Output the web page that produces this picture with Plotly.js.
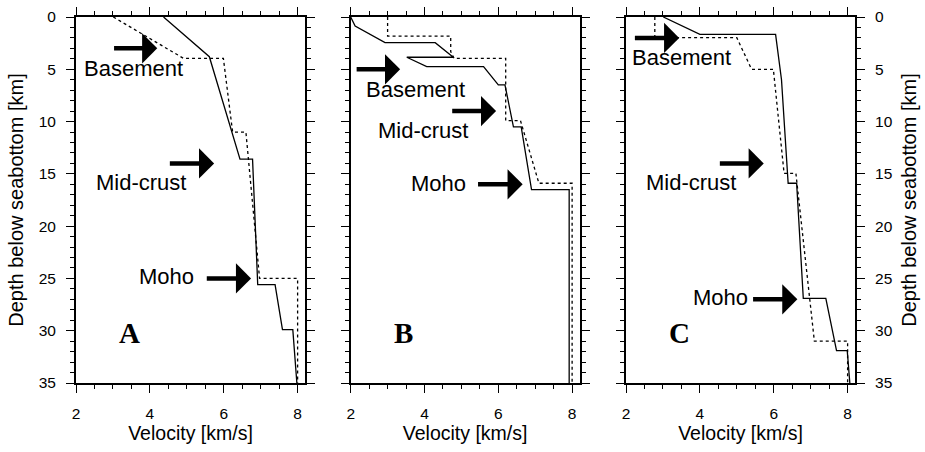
<!DOCTYPE html>
<html><head><meta charset="utf-8">
<script src="https://cdn.plot.ly/plotly-3.0.1.min.js"></script>
<style>html,body{margin:0;padding:0;background:#fff}</style>
</head><body><div id="chart" style="width:925px;height:452px"></div>
<script>
// ---- data (velocity km/s, depth km) ----
const aSolidV = [4.37, 5.61, 6.44, 6.78, 6.92, 7.39, 7.59, 7.87, 7.98];
const aSolidD = [0, 3.8, 13.6, 13.6, 25.6, 25.6, 29.9, 29.9, 35];
const aDashV  = [3.01, 4.91, 5.99, 6.24, 6.6, 6.97, 8.0, 8.0];
const aDashD  = [0, 3.95, 3.95, 11, 11, 25, 25, 35];

const bSolidV = [2.0, 2.12, 2.93, 4.29, 4.78, 3.52, 4.06, 5.6, 6.0, 6.18, 6.41, 6.62, 6.9, 7.92, 7.92];
const bSolidD = [0, 0.86, 2.45, 2.45, 3.85, 3.85, 4.75, 4.75, 6.5, 6.5, 10.5, 10.5, 16.5, 16.5, 35];
const bDashV  = [3.0, 3.0, 4.71, 4.71, 4.8, 6.2, 6.2, 6.6, 7.1, 8.0, 8.0];
const bDashD  = [0, 1.82, 1.82, 3.3, 3.95, 3.95, 9.9, 9.9, 15.9, 15.9, 35];

const cSolidV = [3.01, 4.0, 6.05, 6.21, 6.39, 6.62, 6.8, 7.41, 7.7, 7.99, 8.06];
const cSolidD = [0, 1.66, 1.66, 6.0, 15.9, 15.9, 26.9, 26.9, 31.9, 31.9, 35];
const cDashV  = [2.78, 2.78, 5.0, 5.4, 5.99, 6.28, 6.6, 7.1, 8.0, 8.0];
const cDashD  = [0, 1.98, 1.98, 5.0, 5.0, 14.95, 14.95, 31.0, 31.0, 35];

const panelLetters = ['A', 'B', 'C'];
const boundaryNames = ['Basement', 'Mid-crust', 'Moho'];
// arrow [tailV, tipV, depth] per panel, per boundary
const arrowsA = [[2.99, 4.20, 3.0], [4.50, 5.74, 14.0], [5.50, 6.74, 25.0]];
const arrowsB = [[2.12, 3.34, 5.0], [4.71, 5.94, 9.0], [5.41, 6.66, 16.0]];
const arrowsC = [[2.20, 3.44, 2.0], [4.50, 5.73, 14.0], [5.40, 6.64, 27.0]];
// label centres [v, depth]
const labelsA = [[3.55, 4.9], [3.75, 15.8], [4.46, 24.8]];
const labelsB = [[3.76, 6.9], [3.97, 10.9], [4.37, 15.9]];
const labelsC = [[3.51, 3.85], [3.75, 15.8], [4.56, 26.8]];
const letterPos = [[3.46, 30.2], [3.44, 30.2], [3.46, 30.2]];

const W = 925, H = 452;
const ydom = [(H - 383) / H, (H - 17) / H];
const xdoms = [[76 / W, 305 / W], [350.7 / W, 579.5 / W], [626 / W, 855 / W]];

const solidLine = {color: '#000', width: 1.3};
const dashLine = {color: '#000', width: 1.3, dash: '3px,3px'};

const sets = [
  [aSolidV, aSolidD, aDashV, aDashD],
  [bSolidV, bSolidD, bDashV, bDashD],
  [cSolidV, cSolidD, cDashV, cDashD]
];
const traces = [];
sets.forEach((s, i) => {
  const xa = i === 0 ? 'x' : 'x' + (i + 1);
  const ya = i === 0 ? 'y' : 'y' + (i + 1);
  traces.push({x: s[2], y: s[3], mode: 'lines', line: dashLine, xaxis: xa, yaxis: ya, showlegend: false, hoverinfo: 'skip'});
  traces.push({x: s[0], y: s[1], mode: 'lines', line: solidLine, xaxis: xa, yaxis: ya, showlegend: false, hoverinfo: 'skip'});
});

function xax(i) {
  return {
    domain: xdoms[i], anchor: i === 0 ? 'y' : 'y' + (i + 1),
    range: [2, 8.2], tick0: 2, dtick: 2,
    ticks: 'outside', ticklen: 8, tickwidth: 1, tickcolor: '#000',
    showline: true, linewidth: 2, linecolor: '#000', mirror: 'allticks',
    showgrid: false, zeroline: false,
    tickfont: {size: 15.5, color: '#000'}, ticklabelstandoff: 7,
    minor: {tick0: 2, dtick: 0.5, ticklen: 4, ticks: 'outside', tickcolor: '#000', tickwidth: 1, showgrid: false},
    title: {text: 'Velocity [km/s]', font: {size: 19.5, color: '#000'}, standoff: 6}
  };
}
function yax(i) {
  const o = {
    domain: ydom, anchor: i === 0 ? 'x' : 'x' + (i + 1),
    range: [35, 0], tick0: 0, dtick: 5,
    ticks: 'outside', ticklen: 8, tickwidth: 1, tickcolor: '#000',
    showline: true, linewidth: 2, linecolor: '#000', mirror: 'allticks',
    showgrid: false, zeroline: false,
    tickfont: {size: 15.5, color: '#000'}, ticklabelstandoff: 7,
    minor: {tick0: 0, dtick: 1, ticklen: 4, ticks: 'outside', tickcolor: '#000', tickwidth: 1, showgrid: false}
  };
  if (i === 1) { o.showticklabels = false; }
  if (i === 2) { o.side = 'right'; }
  if (i !== 1) { o.title = {text: 'Depth below seabottom [km]', font: {size: 20, color: '#000'}, standoff: 10}; }
  return o;
}

const annotations = [];
[arrowsA, arrowsB, arrowsC].forEach((arr, i) => {
  const xr = i === 0 ? 'x' : 'x' + (i + 1);
  const yr = i === 0 ? 'y' : 'y' + (i + 1);
  arr.forEach(a => {
    annotations.push({x: a[1], y: a[2], ax: a[0], ay: a[2], xref: xr, yref: yr, axref: xr, ayref: yr,
      text: '', showarrow: true, arrowhead: 1, arrowsize: 1.12, arrowwidth: 4.5, arrowcolor: '#000'});
  });
});
[labelsA, labelsB, labelsC].forEach((lab, i) => {
  const xr = i === 0 ? 'x' : 'x' + (i + 1);
  const yr = i === 0 ? 'y' : 'y' + (i + 1);
  lab.forEach((p, j) => {
    annotations.push({x: p[0], y: p[1], xref: xr, yref: yr, text: boundaryNames[j], showarrow: false,
      font: {size: 22, color: '#000', family: 'Liberation Sans, Arial, sans-serif'}});
  });
  annotations.push({x: letterPos[i][0], y: letterPos[i][1], xref: xr, yref: yr, text: '<b>' + panelLetters[i] + '</b>',
    showarrow: false, font: {size: 29, color: '#000', family: 'Liberation Serif, Times New Roman, serif'}});
});

const layout = {
  width: W, height: H,
  margin: {l: 0, r: 0, t: 0, b: 0},
  paper_bgcolor: '#fff', plot_bgcolor: '#fff',
  font: {family: 'Liberation Sans, Arial, sans-serif', color: '#000'},
  showlegend: false,
  xaxis: xax(0), xaxis2: xax(1), xaxis3: xax(2),
  yaxis: yax(0), yaxis2: yax(1), yaxis3: yax(2),
  annotations: annotations
};
Plotly.newPlot('chart', traces, layout, {displayModeBar: false, staticPlot: true});
</script></body></html>
